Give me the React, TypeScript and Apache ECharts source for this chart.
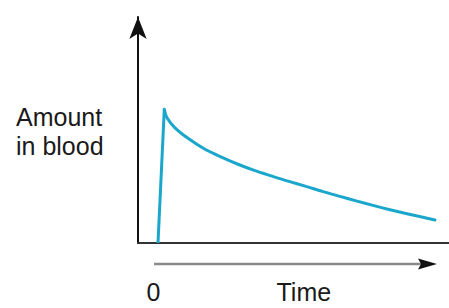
import React, { useEffect, useRef } from "react";
import * as echarts from "echarts";

const timeValues = [0, 0.63, 0.9, 1.7, 3.0, 4.7, 6.4, 8.0, 9.7, 11.4, 13.0, 14.8, 16.5, 18.2, 19.9, 21.5, 23.2, 24.9, 26.5, 27.7];
const amountValues = [0, 56.2, 52.6, 48.4, 44.0, 39.4, 36.0, 33.1, 30.4, 28.1, 26.0, 23.8, 21.6, 19.6, 17.6, 15.8, 14.0, 12.3, 10.8, 9.7];
const yAxisTitle = ["Amount", "in blood"];
const xAxisTitle = "Time";
const xZeroLabel = "0";

const FONT = "'Liberation Sans', Arial, Helvetica, sans-serif";

export default function App() {
  const ref = useRef<HTMLDivElement>(null);
  useEffect(() => {
    if (!ref.current) return;
    const chart = echarts.init(ref.current, null, { renderer: "svg" });
    const rise = [[timeValues[0], amountValues[0]], [timeValues[1], amountValues[1]]];
    const decay = timeValues.slice(1).map((t, i) => [t, amountValues[i + 1]]);
    const lineStyle = { color: "#1ba7cc", width: 3 };
    chart.setOption({
      animation: false,
      backgroundColor: "#ffffff",
      grid: { left: 138, right: 0, top: 17, bottom: 65, containLabel: false },
      xAxis: {
        type: "value",
        min: -2,
        max: 29.1,
        axisLine: { show: true, onZero: false, lineStyle: { color: "#333", width: 2 } },
        axisTick: { show: false },
        axisLabel: { show: false },
        splitLine: { show: false },
      },
      yAxis: {
        type: "value",
        min: 0,
        max: 95,
        axisLine: {
          show: true,
          onZero: false,
          symbol: ["none", "arrow"],
          symbolSize: [13, 22],
          lineStyle: { color: "#111", width: 2 },
        },
        axisTick: { show: false },
        axisLabel: { show: false },
        splitLine: { show: false },
      },
      series: [
        {
          type: "line",
          data: rise,
          showSymbol: false,
          symbol: "none",
          smooth: false,
          lineStyle,
        },
        {
          type: "line",
          data: decay,
          showSymbol: false,
          symbol: "none",
          smooth: 0.3,
          lineStyle: { ...lineStyle, cap: "round", join: "round" },
        },
      ],
      graphic: [
        {
          type: "line",
          shape: { x1: 154, y1: 264, x2: 424, y2: 264 },
          style: { stroke: "#8a8a8a", lineWidth: 2.5 },
        },
        {
          type: "polygon",
          shape: { points: [[418, 258.5], [437, 264], [418, 269.5], [421, 264]] },
          style: { fill: "#111" },
        },
        {
          type: "text",
          x: 16,
          y: 116.5,
          style: { text: yAxisTitle[0], fontSize: 25, fontFamily: FONT, fill: "#1a1a1a", verticalAlign: "middle", align: "left" },
        },
        {
          type: "text",
          x: 16,
          y: 145.5,
          style: { text: yAxisTitle[1], fontSize: 25, fontFamily: FONT, fill: "#1a1a1a", verticalAlign: "middle", align: "left" },
        },
        {
          type: "text",
          x: 146.5,
          y: 291.5,
          style: { text: xZeroLabel, fontSize: 25, fontFamily: FONT, fill: "#1a1a1a", verticalAlign: "middle", align: "left" },
        },
        {
          type: "text",
          x: 276.5,
          y: 291.5,
          style: { text: xAxisTitle, fontSize: 25, fontFamily: FONT, fill: "#1a1a1a", verticalAlign: "middle", align: "left" },
        },
      ],
    });
    return () => chart.dispose();
  }, []);
  return (
    <div
      ref={ref}
      style={{ position: "fixed", left: 0, top: 0, width: 449, height: 308, background: "#fff" }}
    />
  );
}
